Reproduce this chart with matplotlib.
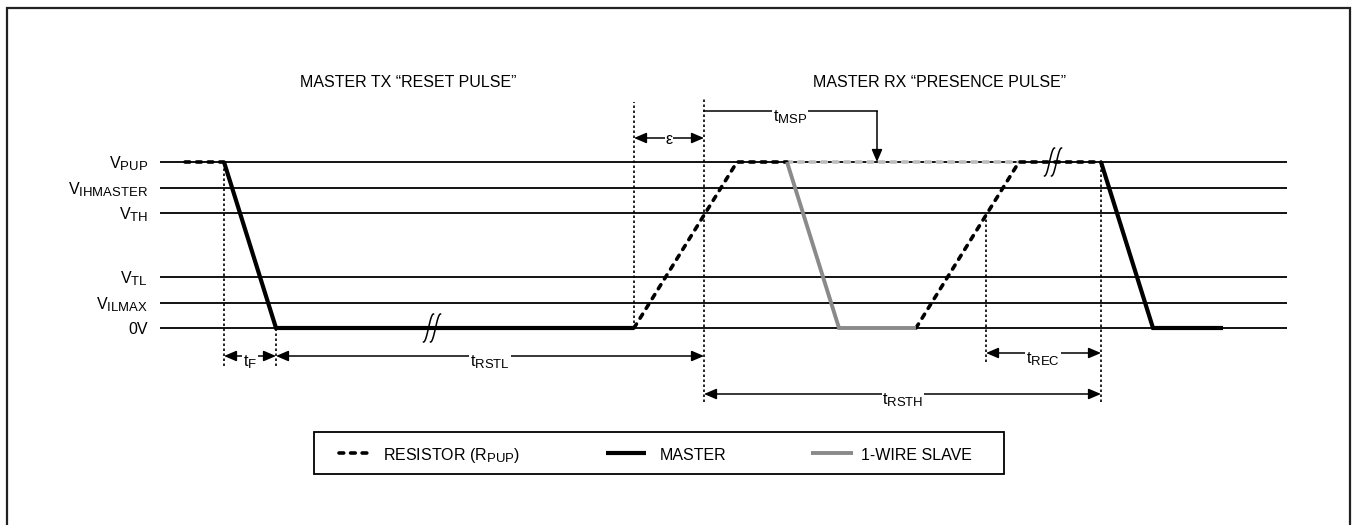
# -*- coding: utf-8 -*-

import numpy as np
import matplotlib
matplotlib.use('Agg')
import matplotlib.pyplot as plt
import matplotlib.patches as mpatches
import matplotlib._mathtext as mathtext_internals
from matplotlib import font_manager

# level labels and normalised voltages (V_PUP = 1)
level_labels = [r'$\mathrm{V}_\mathrm{PUP}$', r'$\mathrm{V}_\mathrm{IHMASTER}$',
                r'$\mathrm{V}_\mathrm{TH}$', r'$\mathrm{V}_\mathrm{TL}$',
                r'$\mathrm{V}_\mathrm{ILMAX}$', '0V']
level_volts = [1.0, 0.843, 0.693, 0.307, 0.151, 0.0]

# waveform segments (time in drawing units, voltage normalised)
resistor_pre_t = [185, 224]
resistor_pre_v = [1, 1]
master_reset_t = [224, 276, 634]
master_reset_v = [1, 0, 0]
resistor_rise1_t = [634, 737, 787]
resistor_rise1_v = [0, 1, 1]
slave_t = [787, 839, 916]
slave_v = [1, 0, 0]
slave_idle_t = [787, 1019]
slave_idle_v = [1, 1]
resistor_rise2_t = [916, 1019, 1101]
resistor_rise2_v = [0, 1, 1]
master_end_t = [1101, 1153, 1223]
master_end_v = [1, 0, 0]

# timing marks
t_fall = 224
t_low = 276
t_release = 634
t_rstl = 704
t_msp = 877
t_rec = 986
t_rsth = 1101
breaks_t = [432, 1053]
breaks_v = [0.0, 1.0]

legend_labels = [r'RESISTOR ($\mathrm{R}_\mathrm{PUP}$)', 'MASTER', '1-WIRE SLAVE']

avail = {f.name for f in font_manager.fontManager.ttflist}
if 'Liberation Sans Narrow' in avail:
    FONT, FS = 'Liberation Sans Narrow', 13.5
else:
    FONT, FS = 'Liberation Sans', 11.5
plt.rcParams['font.family'] = [FONT, 'DejaVu Sans']
plt.rcParams['mathtext.fontset'] = 'custom'
plt.rcParams['mathtext.rm'] = FONT
plt.rcParams['mathtext.it'] = FONT
plt.rcParams['font.size'] = FS
# subscripts in the datasheet are only slightly smaller than the base letter
mathtext_internals.SHRINK_FACTOR = 0.82

W, H = 1352, 525


def py(p):
    """pixel row -> normalised volts"""
    return (328 - p) / 166.0


fig = plt.figure(figsize=(W / 100, H / 100), dpi=100)
ax = fig.add_axes([0, 0, 1, 1])
ax.set_xlim(0, W)
ax.set_ylim(py(H), py(0))
ax.axis('off')

# outer frame
fig.patches.append(mpatches.Rectangle((6.5 / W, -0.05), (1349.5 - 6.5) / W, 1.05 - 7.5 / H,
                                      transform=fig.transFigure, fill=False,
                                      ec='#222222', lw=1.6))

# voltage levels
ax.hlines(level_volts, 160, 1287, color='black', lw=1.3, zorder=1)
for lab, v in zip(level_labels, level_volts):
    ax.text(148, v - 6 / 166, lab, ha='right', va='baseline', fontsize=FS)

dash_kw = dict(color='black', lw=2.6, dashes=(1.3, 1.9), dash_capstyle='round', zorder=3)
master_kw = dict(color='black', lw=3.0, solid_capstyle='butt', solid_joinstyle='miter', zorder=4)
slave_kw = dict(color='#8a8a8a', lw=2.8, solid_capstyle='butt', solid_joinstyle='miter', zorder=4)

ax.plot(resistor_pre_t, resistor_pre_v, **dash_kw)
ax.plot(master_reset_t, master_reset_v, **master_kw)
ax.plot(resistor_rise1_t, resistor_rise1_v, **dash_kw)
ax.plot(slave_idle_t, slave_idle_v, color='#bdbdbd', lw=2.6, dashes=(1.3, 1.9),
        dash_capstyle='round', zorder=2)
ax.plot(slave_t, slave_v, **slave_kw)
ax.plot(resistor_rise2_t, resistor_rise2_v, **dash_kw)
ax.plot(master_end_t, master_end_v, **master_kw)

# break marks
s = np.linspace(-1, 1, 40)
for bx, bv in zip(breaks_t, breaks_v):
    for dx in (-3.5, 3.5):
        ax.plot(bx + dx + 5 * s, bv + 14 / 166 * np.sin(np.pi / 2 * s),
                color='black', lw=1.1, zorder=5)

# dotted guides
dot_kw = dict(color='black', lw=1.2, linestyles=(0, (1.5, 1.5)), zorder=2)
ax.vlines(t_fall, py(366), 1.0, **dot_kw)
ax.vlines(t_low, py(366), 0.0, **dot_kw)
ax.vlines(t_release, 0.0, py(102), **dot_kw)
ax.vlines(t_rstl, py(402), py(97), **dot_kw)
ax.vlines(t_rec, py(362), level_volts[2], **dot_kw)
ax.vlines(t_rsth, py(402), 1.0, **dot_kw)

head = 'head_length=0.75,head_width=0.32'
arrow_kw = dict(arrowstyle='<|-|>,' + head, color='black',
                lw=1.1, shrinkA=0, shrinkB=0, mutation_scale=10)


def span(x0, x1, yp, label, xl, dy=10):
    ax.annotate('', xy=(x1, py(yp)), xytext=(x0, py(yp)), arrowprops=arrow_kw)
    ax.text(xl, py(yp + dy), label, ha='center', va='baseline', fontsize=FS,
            bbox=dict(fc='white', ec='none', pad=0.5), zorder=6)


span(t_fall, t_low, 356, r'$\mathrm{t}_\mathrm{F}$', 250)
span(t_low, t_rstl, 356, r'$\mathrm{t}_\mathrm{RSTL}$', 490)
span(t_release, t_rstl, 138, 'ε', 669, dy=6)
span(t_rec, t_rsth, 353, r'$\mathrm{t}_\mathrm{REC}$', 1043)
span(t_rstl, t_rsth, 394, r'$\mathrm{t}_\mathrm{RSTH}$', 903)

# t_MSP bracket
ax.plot([t_rstl, t_msp], [py(111), py(111)], color='black', lw=1.1)
ax.annotate('', xy=(t_msp, 1.0), xytext=(t_msp, py(111)),
            arrowprops=dict(arrowstyle='-|>,' + head, color='black',
                            lw=1.1, shrinkA=0, shrinkB=0, mutation_scale=10))
ax.text(790, py(121), r'$\mathrm{t}_\mathrm{MSP}$', ha='center', va='baseline', fontsize=FS,
        bbox=dict(fc='white', ec='none', pad=0.5), zorder=6)

# titles
ax.text(300, py(87), 'MASTER TX “RESET PULSE”', ha='left', va='baseline', fontsize=FS)
ax.text(813, py(87), 'MASTER RX “PRESENCE PULSE”', ha='left', va='baseline', fontsize=FS)

# legend box drawn by hand
ax.add_patch(mpatches.Rectangle((314, py(474)), 1004 - 314, py(432) - py(474),
                                fill=False, ec='black', lw=1.3))
leg_y = py(453)
ax.plot([339, 371], [leg_y, leg_y], **dash_kw)
ax.plot([606, 646], [leg_y, leg_y], **master_kw)
ax.plot([811, 853], [leg_y, leg_y], **slave_kw)
for x, lab in zip([383, 660, 861], legend_labels):
    ax.text(x, py(460), lab, ha='left', va='baseline', fontsize=FS)

fig.savefig('out.png', dpi=100)
